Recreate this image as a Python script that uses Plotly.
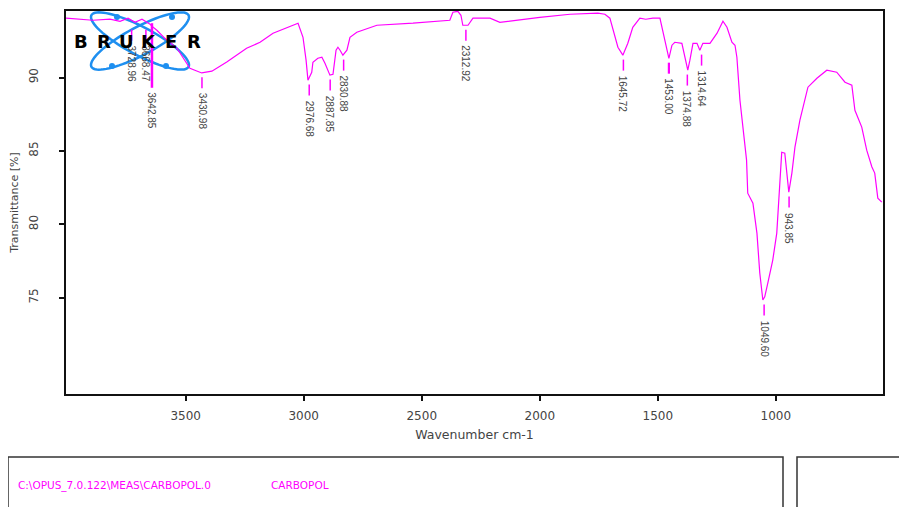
import numpy as np
import plotly.graph_objects as go

# ---------------- data ----------------
wavenumber = [4007, 3893, 3821, 3778, 3744, 3715, 3685, 3651, 3643, 3622, 3588, 3537,
              3482, 3432, 3389, 3326, 3242, 3185, 3130, 3046, 3024, 3003, 2990, 2982,
              2974, 2966, 2961, 2940, 2923, 2910, 2889, 2876, 2863, 2855, 2846, 2834,
              2817, 2804, 2775, 2690, 2537, 2381, 2368, 2347, 2334, 2326, 2304, 2283,
              2211, 2169, 2000, 1872, 1754, 1724, 1703, 1690, 1669, 1648, 1627, 1606,
              1576, 1551, 1521, 1491, 1479, 1462, 1453, 1440, 1428, 1398, 1385, 1373,
              1364, 1351, 1334, 1322, 1309, 1279, 1249, 1224, 1207, 1186, 1173, 1165,
              1152, 1140, 1124, 1119, 1097, 1080, 1068, 1055, 1047, 1034, 1013, 996,
              983, 975, 962, 953, 945, 932, 919, 898, 877, 864, 826, 784, 742, 707,
              678, 665, 636, 615, 593, 581, 568, 551]
transmittance = [94.04, 93.90, 93.97, 93.83, 94.04, 93.76, 93.97, 93.63, 93.49, 93.22, 92.67, 91.99,
                 90.63, 90.31, 90.43, 91.06, 91.99, 92.40, 93.02, 93.56, 93.70, 92.74, 91.18, 89.82,
                 90.16, 90.36, 91.04, 91.31, 91.38, 90.97, 90.16, 90.22, 91.86, 92.06, 91.86, 91.52,
                 91.86, 92.74, 93.08, 93.56, 93.70, 93.90, 94.45, 94.51, 94.24, 93.56, 93.56, 94.04,
                 94.04, 93.76, 94.10, 94.31, 94.38, 94.31, 94.04, 93.22, 92.06, 91.52, 92.33, 93.42,
                 94.04, 93.97, 94.04, 94.04, 93.22, 91.86, 91.31, 92.20, 92.40, 92.33, 91.38, 90.50,
                 91.18, 92.33, 92.33, 91.86, 92.33, 92.33, 93.02, 93.83, 93.42, 92.40, 92.20, 91.38,
                 88.45, 86.75, 84.37, 82.12, 81.44, 79.40, 76.68, 74.84, 75.06, 76.00, 77.56, 79.40,
                 83.01, 84.91, 84.85, 83.49, 82.19, 83.49, 85.26, 87.09, 88.45, 89.34, 89.95, 90.50,
                 90.36, 89.68, 89.48, 87.77, 86.62, 85.05, 83.90, 83.49, 81.78, 81.51]

peak_labels = ["3728.96", "3668.47", "3642.85", "3430.98", "2976.68", "2887.85", "2830.88",
               "2312.92", "1645.72", "1453.00", "1374.88", "1314.64", "1049.60", "943.85"]
peak_T = [93.56, 93.56, 94.00, 90.31, 89.82, 90.16, 91.52,
          93.56, 91.52, 91.31, 90.50, 91.86, 74.84, 82.19]

x_ticks = [3500, 3000, 2500, 2000, 1500, 1000]
y_ticks = [75, 80, 85, 90]

# ---------------- styling ----------------
MAG = "#ff00ff"
TXT = "#444444"
X_RANGE = [4007, 546]
Y_RANGE = [68.44, 94.53]
OFF = 8                      # page body margin
W, H = 907 - OFF, 507 - OFF
# plot area in screen pixels
SX0, SX1, SY0, SY1 = 66, 883, 11, 394
L, T = SX0 - OFF, SY0 - OFF
R, B = W - (SX1 - OFF), H - (SY1 - OFF)
PW, PH = SX1 - SX0, SY1 - SY0


def px2paper(x, y):
    return (x - SX0) / PW, (SY1 - y) / PH


fig = go.Figure()
fig.add_trace(go.Scatter(x=wavenumber, y=transmittance, mode="lines",
                         line=dict(color=MAG, width=1.2), hoverinfo="skip",
                         showlegend=False))

shapes = []
annotations = []

# peak stems and labels
stem_len = [0.75] * len(peak_labels)
stem_w = [1.5] * len(peak_labels)
stem_len[2] = 4.4
stem_w[2] = 2.5
stem_w[9] = 2.2
for lab, pt, sl, sw in zip(peak_labels, peak_T, stem_len, stem_w):
    wn = float(lab)
    y0 = pt - 0.3
    y1 = y0 - sl
    shapes.append(dict(type="line", xref="x", yref="y", x0=wn, x1=wn, y0=y0, y1=y1,
                       line=dict(color=MAG, width=sw)))
    annotations.append(dict(x=wn, y=y1 - 0.2, xref="x", yref="y", text=lab,
                            showarrow=False, textangle=90, xanchor="center",
                            yanchor="top", font=dict(family="Liberation Sans Narrow, Liberation Sans",
                                                     size=10, color=TXT)))

# Bruker logo (two crossed ellipses)
t = np.linspace(0, 2 * np.pi, 80)
for ang in (28, -28):
    th = np.deg2rad(ang)
    cx, cy, a, b = 140, 41, 55, 14
    xs = cx + a * np.cos(t) * np.cos(th) - b * np.sin(t) * np.sin(th)
    ys = cy + a * np.cos(t) * np.sin(th) + b * np.sin(t) * np.cos(th)
    pts = [px2paper(x, y) for x, y in zip(xs, ys)]
    path = "M " + " L ".join(f"{p[0]:.5f},{p[1]:.5f}" for p in pts) + " Z"
    shapes.append(dict(type="path", xref="paper", yref="paper", path=path,
                       line=dict(color="#1e8ff0", width=2.5), layer="below"))
for (dx, dy) in [(117, 17), (172, 17), (112, 66), (166, 66)]:
    x0, y0 = px2paper(dx - 3, dy - 3)
    x1, y1 = px2paper(dx + 3, dy + 3)
    shapes.append(dict(type="circle", xref="paper", yref="paper", x0=x0, x1=x1,
                       y0=y0, y1=y1, fillcolor="#1e8ff0", line=dict(width=0),
                       layer="below"))
for i, ch in enumerate("BRUKER"):
    cxp, cyp = px2paper(81 + i * 22.6, 42)
    annotations.append(dict(x=cxp, y=cyp, xref="paper", yref="paper", text=f"<b>{ch}</b>",
                            showarrow=False, xanchor="center", yanchor="middle",
                            font=dict(family="DejaVu Sans", size=18, color="#000000")))

# bottom info boxes
bx0, by0 = px2paper(8, 457)
bx1, by1 = px2paper(783, 530)
shapes.append(dict(type="rect", xref="paper", yref="paper", x0=bx0, x1=bx1, y0=by1, y1=by0,
                   line=dict(color="#333333", width=1.5)))
bx0, by0 = px2paper(797, 457)
bx1, by1 = px2paper(920, 530)
shapes.append(dict(type="rect", xref="paper", yref="paper", x0=bx0, x1=bx1, y0=by1, y1=by0,
                   line=dict(color="#333333", width=1.5)))
for txt, xx in [("C:\\OPUS_7.0.122\\MEAS\\CARBOPOL.0", 16), ("CARBOPOL", 269)]:
    xp, yp = px2paper(xx, 485)
    annotations.append(dict(x=xp, y=yp, xref="paper", yref="paper", text=txt,
                            showarrow=False, xanchor="left", yanchor="middle",
                            font=dict(family="DejaVu Sans", size=10.5, color=MAG)))

fig.update_layout(
    width=W, height=H,
    margin=dict(l=L, r=R, t=T, b=B, autoexpand=False),
    paper_bgcolor="white", plot_bgcolor="white",
    shapes=shapes, annotations=annotations,
    showlegend=False,
    xaxis=dict(range=X_RANGE, tickvals=x_ticks, ticktext=[str(v) for v in x_ticks],
               automargin=False,
               showgrid=False, zeroline=False, showline=True, mirror=True,
               linecolor="#111111", linewidth=1.5, ticks="outside", ticklen=5,
               tickwidth=1.5, tickcolor="#111111", ticklabelstandoff=5,
               tickfont=dict(family="DejaVu Sans", size=12, color=TXT),
               title=dict(text="Wavenumber cm-1", standoff=8,
                          font=dict(family="DejaVu Sans", size=12.5, color=TXT))),
    yaxis=dict(range=Y_RANGE, tickvals=y_ticks, ticktext=[str(v) for v in y_ticks],
               automargin=False,
               showgrid=False, zeroline=False, showline=True, mirror=True,
               linecolor="#111111", linewidth=2, ticks="outside", ticklen=5,
               tickwidth=1.5, tickcolor="#111111", tickangle=-90, ticklabelstandoff=16,
               tickfont=dict(family="DejaVu Sans", size=12, color=TXT),
               title=dict(text="Transmittance [%]", standoff=14,
                          font=dict(family="DejaVu Sans", size=11, color=TXT))),
)

fig.write_html("out.html")
